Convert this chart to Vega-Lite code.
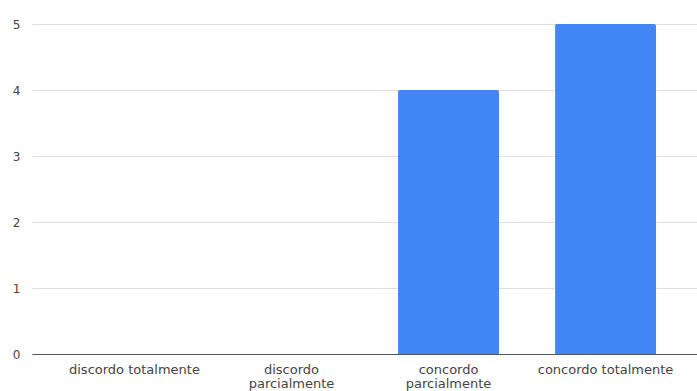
{
  "$schema": "https://vega.github.io/schema/vega-lite/v6.json",
  "autosize": "none",
  "width": 676,
  "height": 330,
  "padding": {"left": 32, "top": 24, "right": 0, "bottom": 37},
  "background": "white",
  "config": {"view": {"stroke": null}, "font": "DejaVu Sans"},
  "data": {"values": [
    {"category": "discordo totalmente", "value": 0},
    {"category": "discordo parcialmente", "value": 0},
    {"category": "concordo parcialmente", "value": 4},
    {"category": "concordo totalmente", "value": 5}
  ]},
  "mark": {"type": "bar", "color": "#4285F4", "cornerRadiusTopLeft": 2, "cornerRadiusTopRight": 2},
  "encoding": {
    "x": {
      "field": "category", "type": "nominal", "sort": null,
      "scale": {"paddingInner": 0.357, "paddingOuter": 0.331},
      "axis": {
        "title": null, "labelAngle": 0, "ticks": false, "domain": true,
        "domainColor": "#555555", "domainWidth": 1,
        "labelFont": "DejaVu Sans", "labelFontSize": 13, "labelColor": "#444444",
        "labelPadding": 9, "labelLineHeight": 14, "labelLimit": 250, "labelOverlap": false,
        "labelExpr": "datum.label == 'discordo parcialmente' ? ['discordo', 'parcialmente'] : datum.label == 'concordo parcialmente' ? ['concordo', 'parcialmente'] : datum.label"
      }
    },
    "y": {
      "field": "value", "type": "quantitative",
      "scale": {"domain": [0, 5], "nice": false},
      "axis": {
        "title": null, "values": [0, 1, 2, 3, 4, 5],
        "ticks": false, "domain": false, "grid": true, "labelOverlap": false,
        "gridColor": "#dddddd", "gridWidth": 1,
        "labelFont": "DejaVu Sans", "labelFontSize": 12, "labelColor": "#444444",
        "labelPadding": 12
      }
    }
  }
}
